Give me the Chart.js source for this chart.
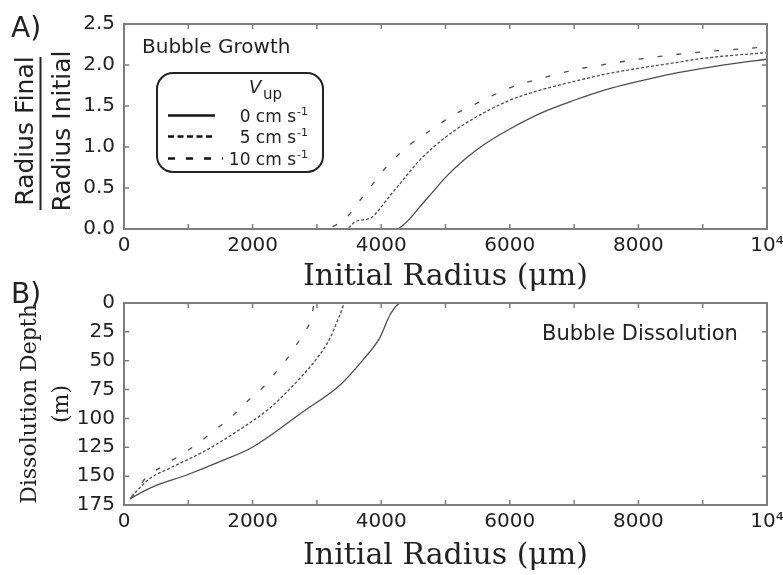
<!DOCTYPE html>
<html>
<head>
<meta charset="utf-8">
<title>Bubble growth and dissolution</title>
<script src="https://cdn.jsdelivr.net/npm/chart.js@4.4.1/dist/chart.umd.min.js"></script>
<style>
    html, body { margin: 0; padding: 0; background: #fff; }
    #wrap { position: relative; width: 783px; height: 575px; overflow: hidden; }
    canvas { position: absolute; left: 0; }
    #growthChart { top: 0; }
    #dissolutionChart { top: 270px; }
</style>
</head>
<body>
<div id="wrap">
    <canvas id="growthChart" width="783" height="300"></canvas>
    <canvas id="dissolutionChart" width="783" height="305"></canvas>
</div>
<script>
// ===========================
// Data
// ===========================

const speedLabels = ['0 cm s', '5 cm s', '10 cm s'];

// A) Radius final / radius initial vs initial radius (um)
const growthX0 = [0, 4250, 4330, 4450, 4600, 4800, 5000, 5300, 5600, 6000, 6500, 7000, 7500, 8000, 8500, 9000, 9500, 10000];
const growthY0 = [0, 0, 0.04, 0.13, 0.27, 0.45, 0.63, 0.85, 1.03, 1.22, 1.42, 1.57, 1.70, 1.80, 1.89, 1.96, 2.02, 2.07];

const growthX5 = [0, 3450, 3600, 3850, 3950, 4100, 4300, 4600, 5000, 5400, 6000, 6500, 7000, 7500, 8000, 8500, 9000, 9500, 10000];
const growthY5 = [0, 0, 0.09, 0.14, 0.22, 0.37, 0.56, 0.84, 1.12, 1.33, 1.57, 1.70, 1.80, 1.89, 1.96, 2.02, 2.08, 2.12, 2.15];

const growthX10 = [0, 3100, 3300, 3450, 3650, 3850, 4050, 4300, 4550, 4800, 5100, 5400, 6000, 6500, 7000, 7500, 8000, 8500, 9000, 9500, 10000];
const growthY10 = [0, 0, 0.05, 0.13, 0.33, 0.53, 0.73, 0.93, 1.09, 1.22, 1.38, 1.50, 1.72, 1.84, 1.94, 2.01, 2.07, 2.12, 2.16, 2.19, 2.22];

// B) Dissolution depth (m) vs initial radius (um)
const depthX0 = [10000, 4300, 4140, 3980, 3720, 3360, 2790, 2010, 1490, 975, 456, 145, 90];
const depthY0 = [0, 0, 10, 30, 49, 71, 94, 124.5, 137.5, 149, 159, 168, 170];

const depthX5 = [10000, 3440, 3360, 3200, 3000, 2740, 2480, 2270, 1750, 1230, 715, 404, 145, 95];
const depthY5 = [0, 0, 10, 31, 48, 65, 80, 91, 111.5, 129, 143, 152, 166, 169];

const depthX10 = [10000, 2960, 2920, 2760, 2580, 2370, 2170, 1910, 1675, 1415, 1155, 870, 585, 355, 120, 100];
const depthY10 = [0, 0, 12, 29, 45, 59.5, 72.5, 85.5, 98.5, 110, 121.5, 132, 142, 150.5, 168, 169];

const radiusTicks = [0, 2000, 4000, 6000, 8000, 10000];
const radiusTickText = ['0', '2000', '4000', '6000', '8000', '10⁴'];

// ===========================
// Styling
// ===========================

const SANS = '"DejaVu Sans", "Liberation Sans", sans-serif';
const SERIF = '"DejaVu Serif", "Liberation Serif", serif';
const INK = '#222';
const FRAME = '#7d7d7d';
const CURVE = '#4d4d4d';
const DASHES = [[], [3, 2], [5, 14]];

function toPoints(xs, ys) {
    return xs.map((x, i) => ({ x: x, y: ys[i] }));
}

function makeDataset(label, xs, ys, k) {
    return {
        label: label,
        data: toPoints(xs, ys),
        showLine: true,
        borderColor: CURVE,
        borderWidth: 1.3,
        borderDash: DASHES[k],
        pointRadius: 0,
        cubicInterpolationMode: 'monotone',
        clip: 3
    };
}

function radiusAxis(height, titlePad) {
    return {
        type: 'linear',
        position: 'bottom',
        min: 0,
        max: 10000,
        grid: { display: false, drawTicks: false },
        border: { display: false },
        afterFit: function(scale) {
            scale.height = height;
            // let the last label hang past the frame instead of shrinking it
            scale.paddingLeft = 0;
            scale.paddingRight = 0;
        },
        ticks: {
            stepSize: 1000,
            autoSkip: false,
            maxRotation: 0,
            padding: 5,
            color: INK,
            font: { family: SANS, size: 20 },
            callback: function(value) {
                const i = radiusTicks.indexOf(value);
                return i < 0 ? '' : radiusTickText[i];
            }
        },
        title: {
            display: true,
            text: 'Initial Radius (μm)',
            color: INK,
            font: { family: SERIF, size: 30 },
            padding: { top: 0, bottom: titlePad }
        }
    };
}

// frame + inward tick marks on all four sides
const innerTicks = {
    id: 'innerTicks',
    afterDraw(chart) {
        const { ctx, chartArea: a, scales } = chart;
        const x = scales.x, y = scales.y;
        ctx.save();
        ctx.strokeStyle = FRAME;
        ctx.lineWidth = 1.5;
        ctx.beginPath();
        x.ticks.forEach(t => {
            const px = x.getPixelForValue(t.value);
            if (px <= a.left + 1 || px >= a.right - 1) return;
            ctx.moveTo(px, a.bottom); ctx.lineTo(px, a.bottom - 5);
            ctx.moveTo(px, a.top); ctx.lineTo(px, a.top + 5);
        });
        y.ticks.forEach(t => {
            const py = y.getPixelForValue(t.value);
            if (py <= a.top + 1 || py >= a.bottom - 1) return;
            ctx.moveTo(a.left, py); ctx.lineTo(a.left + 5, py);
            ctx.moveTo(a.right, py); ctx.lineTo(a.right - 5, py);
        });
        ctx.stroke();
        ctx.lineWidth = 2;
        ctx.strokeRect(a.left, a.top, a.right - a.left, a.bottom - a.top);
        ctx.restore();
    }
};

function roundBox(ctx, x, y, w, h, r) {
    ctx.beginPath();
    ctx.moveTo(x + r, y);
    ctx.arcTo(x + w, y, x + w, y + h, r);
    ctx.arcTo(x + w, y + h, x, y + h, r);
    ctx.arcTo(x, y + h, x, y, r);
    ctx.arcTo(x, y, x + w, y, r);
    ctx.closePath();
    ctx.stroke();
}

function legendRow(ctx, text, baseline, lineY, dash, x2) {
    ctx.save();
    ctx.strokeStyle = '#111';
    ctx.lineWidth = 2.4;
    ctx.setLineDash(dash);
    ctx.beginPath();
    ctx.moveTo(168, lineY);
    ctx.lineTo(x2, lineY);
    ctx.stroke();
    ctx.restore();

    ctx.font = '11px ' + SANS;
    const supW = ctx.measureText('-1').width;
    ctx.textAlign = 'left';
    ctx.fillText('-1', 308 - supW, baseline - 7);
    ctx.font = '17px ' + SANS;
    ctx.textAlign = 'right';
    ctx.fillText(text, 307 - supW, baseline);
    ctx.textAlign = 'left';
}

const growthNotes = {
    id: 'growthNotes',
    afterDraw(chart) {
        const ctx = chart.ctx;
        ctx.save();
        ctx.fillStyle = INK;
        ctx.textBaseline = 'alphabetic';

        ctx.font = '28px ' + SANS;
        ctx.fillText('A)', 11, 37);

        ctx.font = '20px ' + SANS;
        ctx.fillText('Bubble Growth', 142, 53);

        // y title as a fraction
        ctx.save();
        ctx.translate(0, 131);
        ctx.rotate(-Math.PI / 2);
        ctx.font = '25px ' + SANS;
        ctx.textAlign = 'center';
        ctx.fillText('Radius Final', 0, 33);
        ctx.fillText('Radius Initial', 0, 70);
        ctx.restore();
        ctx.fillRect(39.5, 57, 2, 153);

        // legend box
        ctx.strokeStyle = '#222';
        ctx.lineWidth = 2;
        roundBox(ctx, 157, 73, 166, 99, 16);

        ctx.font = 'italic 18px ' + SANS;
        ctx.fillText('V', 249, 93);
        ctx.font = '15px ' + SANS;
        ctx.fillText('up', 263, 99);

        legendRow(ctx, speedLabels[0], 122, 115.5, [], 215);
        legendRow(ctx, speedLabels[1], 143, 136.5, [6, 3.5], 215);
        legendRow(ctx, speedLabels[2], 165, 158.5, [7, 11], 223);
        ctx.restore();
    }
};

const dissolutionNotes = {
    id: 'dissolutionNotes',
    afterDraw(chart) {
        const ctx = chart.ctx;
        ctx.save();
        ctx.fillStyle = INK;
        ctx.font = '28px ' + SANS;
        ctx.fillText('B)', 11, 33);
        ctx.font = '21px ' + SANS;
        ctx.fillText('Bubble Dissolution', 542, 70);
        ctx.restore();
    }
};

// ===========================
// A) Growth chart
// ===========================

new Chart(document.getElementById('growthChart'), {
    type: 'scatter',
    data: {
        datasets: [
            makeDataset(speedLabels[0], growthX0, growthY0, 0),
            makeDataset(speedLabels[1], growthX5, growthY5, 1),
            makeDataset(speedLabels[2], growthX10, growthY10, 2)
        ]
    },
    options: {
        responsive: false,
        animation: false,
        layout: { padding: { left: 0, right: 16, top: 24, bottom: 0 } },
        plugins: { legend: { display: false }, tooltip: { enabled: false } },
        scales: {
            x: radiusAxis(71, 5),
            y: {
                type: 'linear',
                min: 0,
                max: 2.5,
                grid: { display: false, drawTicks: false },
                border: { display: false },
                afterFit: function(scale) { scale.width = 124; },
                ticks: {
                    stepSize: 0.5,
                    padding: 9,
                    color: INK,
                    font: { family: SANS, size: 20 },
                    callback: function(value) { return value.toFixed(1); }
                }
            }
        }
    },
    plugins: [innerTicks, growthNotes]
});

// ===========================
// B) Dissolution chart
// ===========================

new Chart(document.getElementById('dissolutionChart'), {
    type: 'scatter',
    data: {
        datasets: [
            makeDataset(speedLabels[0], depthX0, depthY0, 0),
            makeDataset(speedLabels[1], depthX5, depthY5, 1),
            makeDataset(speedLabels[2], depthX10, depthY10, 2)
        ]
    },
    options: {
        responsive: false,
        animation: false,
        layout: { padding: { left: 0, right: 16, top: 33, bottom: 0 } },
        plugins: { legend: { display: false }, tooltip: { enabled: false } },
        scales: {
            x: radiusAxis(70, 1),
            y: {
                type: 'linear',
                min: 0,
                max: 175,
                reverse: true,
                grid: { display: false, drawTicks: false },
                border: { display: false },
                afterFit: function(scale) { scale.width = 124; },
                ticks: {
                    stepSize: 25,
                    padding: 9,
                    color: INK,
                    font: { family: SANS, size: 20 }
                },
                title: {
                    display: true,
                    text: ['Dissolution Depth', '(m)'],
                    color: INK,
                    font: { family: SERIF, size: 22, lineHeight: 1.45 },
                    padding: { top: 14, bottom: 0 }
                }
            }
        }
    },
    plugins: [innerTicks, dissolutionNotes]
});
</script>
</body>
</html>
